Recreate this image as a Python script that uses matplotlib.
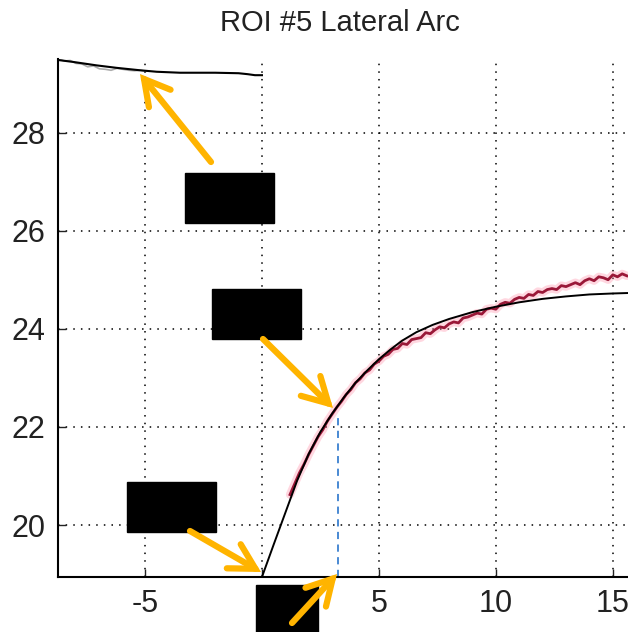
import matplotlib
matplotlib.use("Agg")
import matplotlib.pyplot as plt
from matplotlib.patches import Rectangle, FancyArrowPatch

plt.rcParams['font.family'] = ['Liberation Sans', 'DejaVu Sans']
plt.rcParams['axes.unicode_minus'] = False

# pre-zero segment (black fit + grey raw)
pre_x = [-8.72, -8.07, -7.07, -6.22, -5.21, -4.5, -3.5, -2.0, -1.0, -0.6, -0.3, 0.0]
pre_y = [29.48, 29.44, 29.37, 29.32, 29.27, 29.24, 29.22, 29.22, 29.21, 29.19, 29.17, 29.17]
raw_pre_x = [-8.7, -8.45, -8.2, -7.95, -7.7, -7.45, -7.2, -6.95, -6.7, -6.45, -6.2, -5.95, -5.7, -5.45, -5.2, -4.95]
raw_pre_y = [29.50, 29.46, 29.47, 29.41, 29.40, 29.34, 29.36, 29.30, 29.29, 29.27, 29.31, 29.29, 29.27, 29.26, 29.27, 29.25]

# post-zero fit
fit_x = [0, 0.5, 1.0, 1.5, 2.0, 2.5, 3.0, 3.5, 4.0, 4.5, 5.0, 5.5, 6.0, 6.6, 7.3, 8.0,
         9.0, 10.0, 11.0, 12.0, 13.0, 14.0, 15.0, 15.7]
fit_y = [18.94, 19.6, 20.25, 20.9, 21.45, 21.9, 22.27, 22.6, 22.9, 23.15, 23.38, 23.58, 23.76,
         23.93, 24.08, 24.20, 24.34, 24.45, 24.54, 24.61, 24.66, 24.70, 24.72, 24.73]

# post-zero measured data (red)
data_x = [1.2, 1.4, 1.6, 1.8, 2.0, 2.2, 2.4, 2.6, 2.8, 3.0, 3.2, 3.4, 3.6, 3.8, 4.0, 4.2, 4.4,
          4.6, 4.8, 5.0, 5.2, 5.4, 5.6, 5.8, 6.0, 6.2, 6.4, 6.6, 6.8, 7.0, 7.2, 7.4, 7.6, 7.8,
          8.0, 8.2, 8.4, 8.6, 8.8, 9.0, 9.2, 9.4, 9.6, 9.8, 10.0, 10.2, 10.4, 10.6, 10.8, 11.0,
          11.2, 11.4, 11.6, 11.8, 12.0, 12.2, 12.4, 12.6, 12.8, 13.0, 13.2, 13.4, 13.6, 13.8,
          14.0, 14.2, 14.4, 14.6, 14.8, 15.0, 15.2, 15.4, 15.6]
data_y = [20.62, 20.84, 21.06, 21.24, 21.44, 21.62, 21.80, 21.94, 22.12, 22.26, 22.40, 22.52,
          22.66, 22.76, 22.90, 22.98, 23.10, 23.16, 23.28, 23.34, 23.44, 23.48, 23.58, 23.60,
          23.70, 23.68, 23.78, 23.80, 23.82, 23.92, 23.90, 23.98, 24.04, 24.02, 24.10, 24.14,
          24.12, 24.22, 24.24, 24.28, 24.32, 24.30, 24.40, 24.42, 24.40, 24.50, 24.54, 24.52,
          24.60, 24.64, 24.62, 24.70, 24.68, 24.76, 24.74, 24.80, 24.82, 24.80, 24.88, 24.86,
          24.90, 24.94, 24.90, 24.98, 25.02, 24.98, 25.06, 25.04, 25.00, 25.10, 25.06, 25.12, 25.08]

marker_x = 3.23
marker_y = 22.18

xticks = [-5, 0, 5, 10, 15]
xticklabels = ['-5', '', '5', '10', '15']   # "0" sits under a redaction box
yticks = [20, 22, 24, 26, 28]

W, H = 628, 632
fig = plt.figure(figsize=(W / 100, H / 100), dpi=100)
ax = fig.add_axes([58 / W, 1 - 577 / H, (W - 58) / W, (577 - 59) / H])

ax.plot(raw_pre_x, raw_pre_y, color='#888888', lw=1.2, alpha=0.7)
ax.plot(pre_x, pre_y, color='black', lw=1.5)
ax.plot(data_x, data_y, color='#ff8fa8', lw=6, alpha=0.35, solid_capstyle='round')
ax.plot(data_x, data_y, color='#9a1838', lw=2.0)
ax.plot(fit_x, fit_y, color='black', lw=1.4)
ax.plot([marker_x, marker_x], [18.94, marker_y], color='#3a80d0', lw=1.3, ls=(0, (4, 3)))

ax.set_xlim(-8.72, 15.65)
ax.set_ylim(18.94, 29.5)
ax.set_xticks(xticks)
ax.set_xticklabels(xticklabels)
ax.set_yticks(yticks)
ax.tick_params(direction='in', length=6, width=1, labelsize=22, pad=9, colors='#222222')
ax.grid(True, color='black', ls=(0, (1, 4)), lw=1.1)
ax.spines['top'].set_visible(False)
ax.spines['right'].set_visible(False)
for s in ('left', 'bottom'):
    ax.spines[s].set_linewidth(1.5)

fig.text(340 / W, 1 - 23 / H, 'ROI #5 Lateral Arc', ha='center', va='center',
         fontsize=21, color='#222222')


def fp(x, y):
    return (x / W, 1 - y / H)


boxes = [(185, 173, 274, 223), (212, 289, 301, 339), (127, 482, 216, 532), (256, 585, 318, 632)]
for x0, y0, x1, y1 in boxes:
    fig.add_artist(Rectangle(fp(x0, y1), (x1 - x0) / W, (y1 - y0) / H,
                             transform=fig.transFigure, color='black', zorder=10))

arrows = [((211, 162), (140, 74)), ((263, 339), (333, 408)),
          ((190, 531), (261, 572)), ((292, 623), (337, 574))]
for tail, tip in arrows:
    fig.add_artist(FancyArrowPatch(fp(*tail), fp(*tip), transform=fig.transFigure,
                                   arrowstyle='->,head_length=0.9,head_width=0.5',
                                   mutation_scale=20, color='#ffb400', lw=4.5,
                                   shrinkA=0, shrinkB=0, capstyle='round', joinstyle='miter',
                                   zorder=11))

fig.savefig('out.png', dpi=100)
